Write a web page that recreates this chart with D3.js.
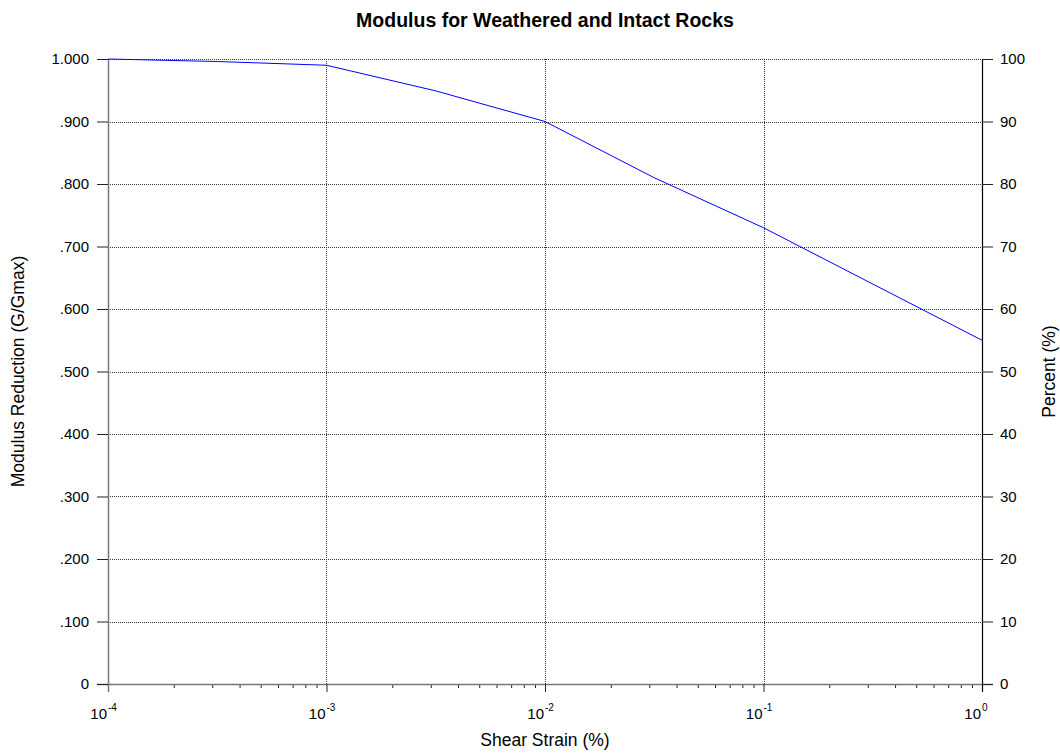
<!DOCTYPE html>
<html>
<head>
<meta charset="utf-8">
<script src="https://cdn.jsdelivr.net/npm/d3@7"></script>
<style>
  body { margin: 0; background: #fff; }
  svg { font-family: "Liberation Sans", Arial, sans-serif; }
</style>
</head>
<body>
<div id="chart"></div>
<script>
const strain = [1e-4, 3.162e-4, 1e-3, 3.162e-3, 1e-2, 3.162e-2, 1e-1, 3.162e-1, 1];
const modulus = [1.000, 0.996, 0.990, 0.949, 0.900, 0.810, 0.730, 0.640, 0.550];
const xMajor = [1e-4, 1e-3, 1e-2, 1e-1, 1];
const xExponents = ["-4", "-3", "-2", "-1", "0"];
const yTicks = [0, 0.1, 0.2, 0.3, 0.4, 0.5, 0.6, 0.7, 0.8, 0.9, 1.0];
const pctTicks = [0, 10, 20, 30, 40, 50, 60, 70, 80, 90, 100];

const w = 1060, h = 756;
const pLeft = 108, pRight = 982, pTop = 59, pBottom = 684;
const font = "Liberation Sans, Arial, sans-serif";

const x = d3.scaleLog().domain([1e-4, 1]).range([pLeft, pRight]);
const y = d3.scaleLinear().domain([0, 1]).range([pBottom, pTop]);
const yPct = d3.scaleLinear().domain([0, 100]).range([pBottom, pTop]);

const svg = d3.select("#chart").append("svg")
  .attr("width", w)
  .attr("height", h);

// grid
svg.append("g")
  .selectAll("line")
  .data(yTicks.slice(1))
  .join("line")
  .attr("x1", pLeft).attr("x2", pRight)
  .attr("y1", d => Math.round(y(d)) + 0.5).attr("y2", d => Math.round(y(d)) + 0.5)
  .attr("stroke", "#333")
  .attr("stroke-dasharray", "1,1");

svg.append("g")
  .selectAll("line")
  .data(xMajor.slice(1, -1))
  .join("line")
  .attr("x1", d => Math.round(x(d)) + 0.5).attr("x2", d => Math.round(x(d)) + 0.5)
  .attr("y1", pTop).attr("y2", pBottom)
  .attr("stroke", "#333")
  .attr("stroke-dasharray", "1,1");

// minor x ticks
const minor = [];
xMajor.slice(0, -1).forEach(m => {
  for (let k = 2; k <= 9; k++) minor.push(m * k);
});

const xMinorAxis = d3.axisBottom(x).tickValues(minor).tickSize(4).tickFormat("");
svg.append("g")
  .attr("transform", `translate(0, ${pBottom})`)
  .call(xMinorAxis)
  .call(g => g.select(".domain").remove())
  .call(g => g.selectAll("line").attr("stroke", "#222"));

const xAxis = d3.axisBottom(x).tickValues(xMajor).tickSize(8).tickSizeOuter(0).tickFormat("");
const gx = svg.append("g")
  .attr("transform", `translate(0, ${pBottom})`)
  .call(xAxis);
gx.select(".domain").attr("stroke", "#777").attr("stroke-width", 1.5)
  .attr("d", `M${pLeft - 11},0.5H${pRight + 11}`);
gx.selectAll("line").attr("stroke", "#222");

// x tick labels: "10" with superscript exponent
const xl = svg.append("g")
  .selectAll("g")
  .data(xMajor)
  .join("g")
  .attr("transform", d => `translate(${x(d)}, 719)`);
xl.append("text")
  .attr("x", -1)
  .attr("text-anchor", "end")
  .attr("font-size", 15)
  .attr("font-family", font)
  .text("10");
xl.append("text")
  .attr("x", 0)
  .attr("y", -8)
  .attr("font-size", 10)
  .attr("font-family", font)
  .text((d, i) => xExponents[i]);

// left axis
const fmt = d => d === 0 ? "0" : d === 1 ? "1.000" : d3.format(".3f")(d).replace(/^0/, "");
const yAxis = d3.axisLeft(y).tickValues(yTicks).tickSize(11).tickSizeOuter(0).tickFormat(fmt);
const gy = svg.append("g")
  .attr("transform", `translate(${pLeft}, 0)`)
  .call(yAxis);
gy.select(".domain").attr("stroke", "#777").attr("stroke-width", 1.5)
  .attr("d", `M0.5,${pTop}V${pBottom + 8}`);
gy.selectAll(".tick line").attr("stroke", "#222");
gy.selectAll("text").attr("font-size", 15).attr("fill", "#000").attr("x", -19)
  .attr("font-family", font);

// right axis
const yAxisR = d3.axisRight(yPct).tickValues(pctTicks).tickSize(11).tickSizeOuter(0);
const gr = svg.append("g")
  .attr("transform", `translate(${pRight}, 0)`)
  .call(yAxisR);
gr.select(".domain").attr("stroke", "#000").attr("stroke-width", 1.2)
  .attr("d", `M0.5,${pTop}V${pBottom + 8}`);
gr.selectAll(".tick line").attr("stroke", "#222");
gr.selectAll("text").attr("font-size", 15).attr("fill", "#000").attr("x", 18)
  .attr("font-family", font);

// data line
const line = d3.line()
  .x((d, i) => x(strain[i]))
  .y(d => y(d));

svg.append("path")
  .datum(modulus)
  .attr("d", line)
  .attr("fill", "none")
  .attr("stroke", "#0000ff")
  .attr("stroke-width", 1);

// titles
svg.append("text")
  .attr("x", (pLeft + pRight) / 2)
  .attr("y", 27)
  .attr("text-anchor", "middle")
  .attr("font-size", 19.5)
  .attr("font-weight", "bold")
  .text("Modulus for Weathered and Intact Rocks");

svg.append("text")
  .attr("x", (pLeft + pRight) / 2)
  .attr("y", 746)
  .attr("text-anchor", "middle")
  .attr("font-size", 17.5)
  .text("Shear Strain (%)");

svg.append("text")
  .attr("transform", `translate(24, ${(pTop + pBottom) / 2}) rotate(-90)`)
  .attr("text-anchor", "middle")
  .attr("font-size", 17.5)
  .text("Modulus Reduction (G/Gmax)");

svg.append("text")
  .attr("transform", `translate(1055, ${(pTop + pBottom) / 2}) rotate(-90)`)
  .attr("text-anchor", "middle")
  .attr("font-size", 17.5)
  .text("Percent (%)");
</script>
</body>
</html>
